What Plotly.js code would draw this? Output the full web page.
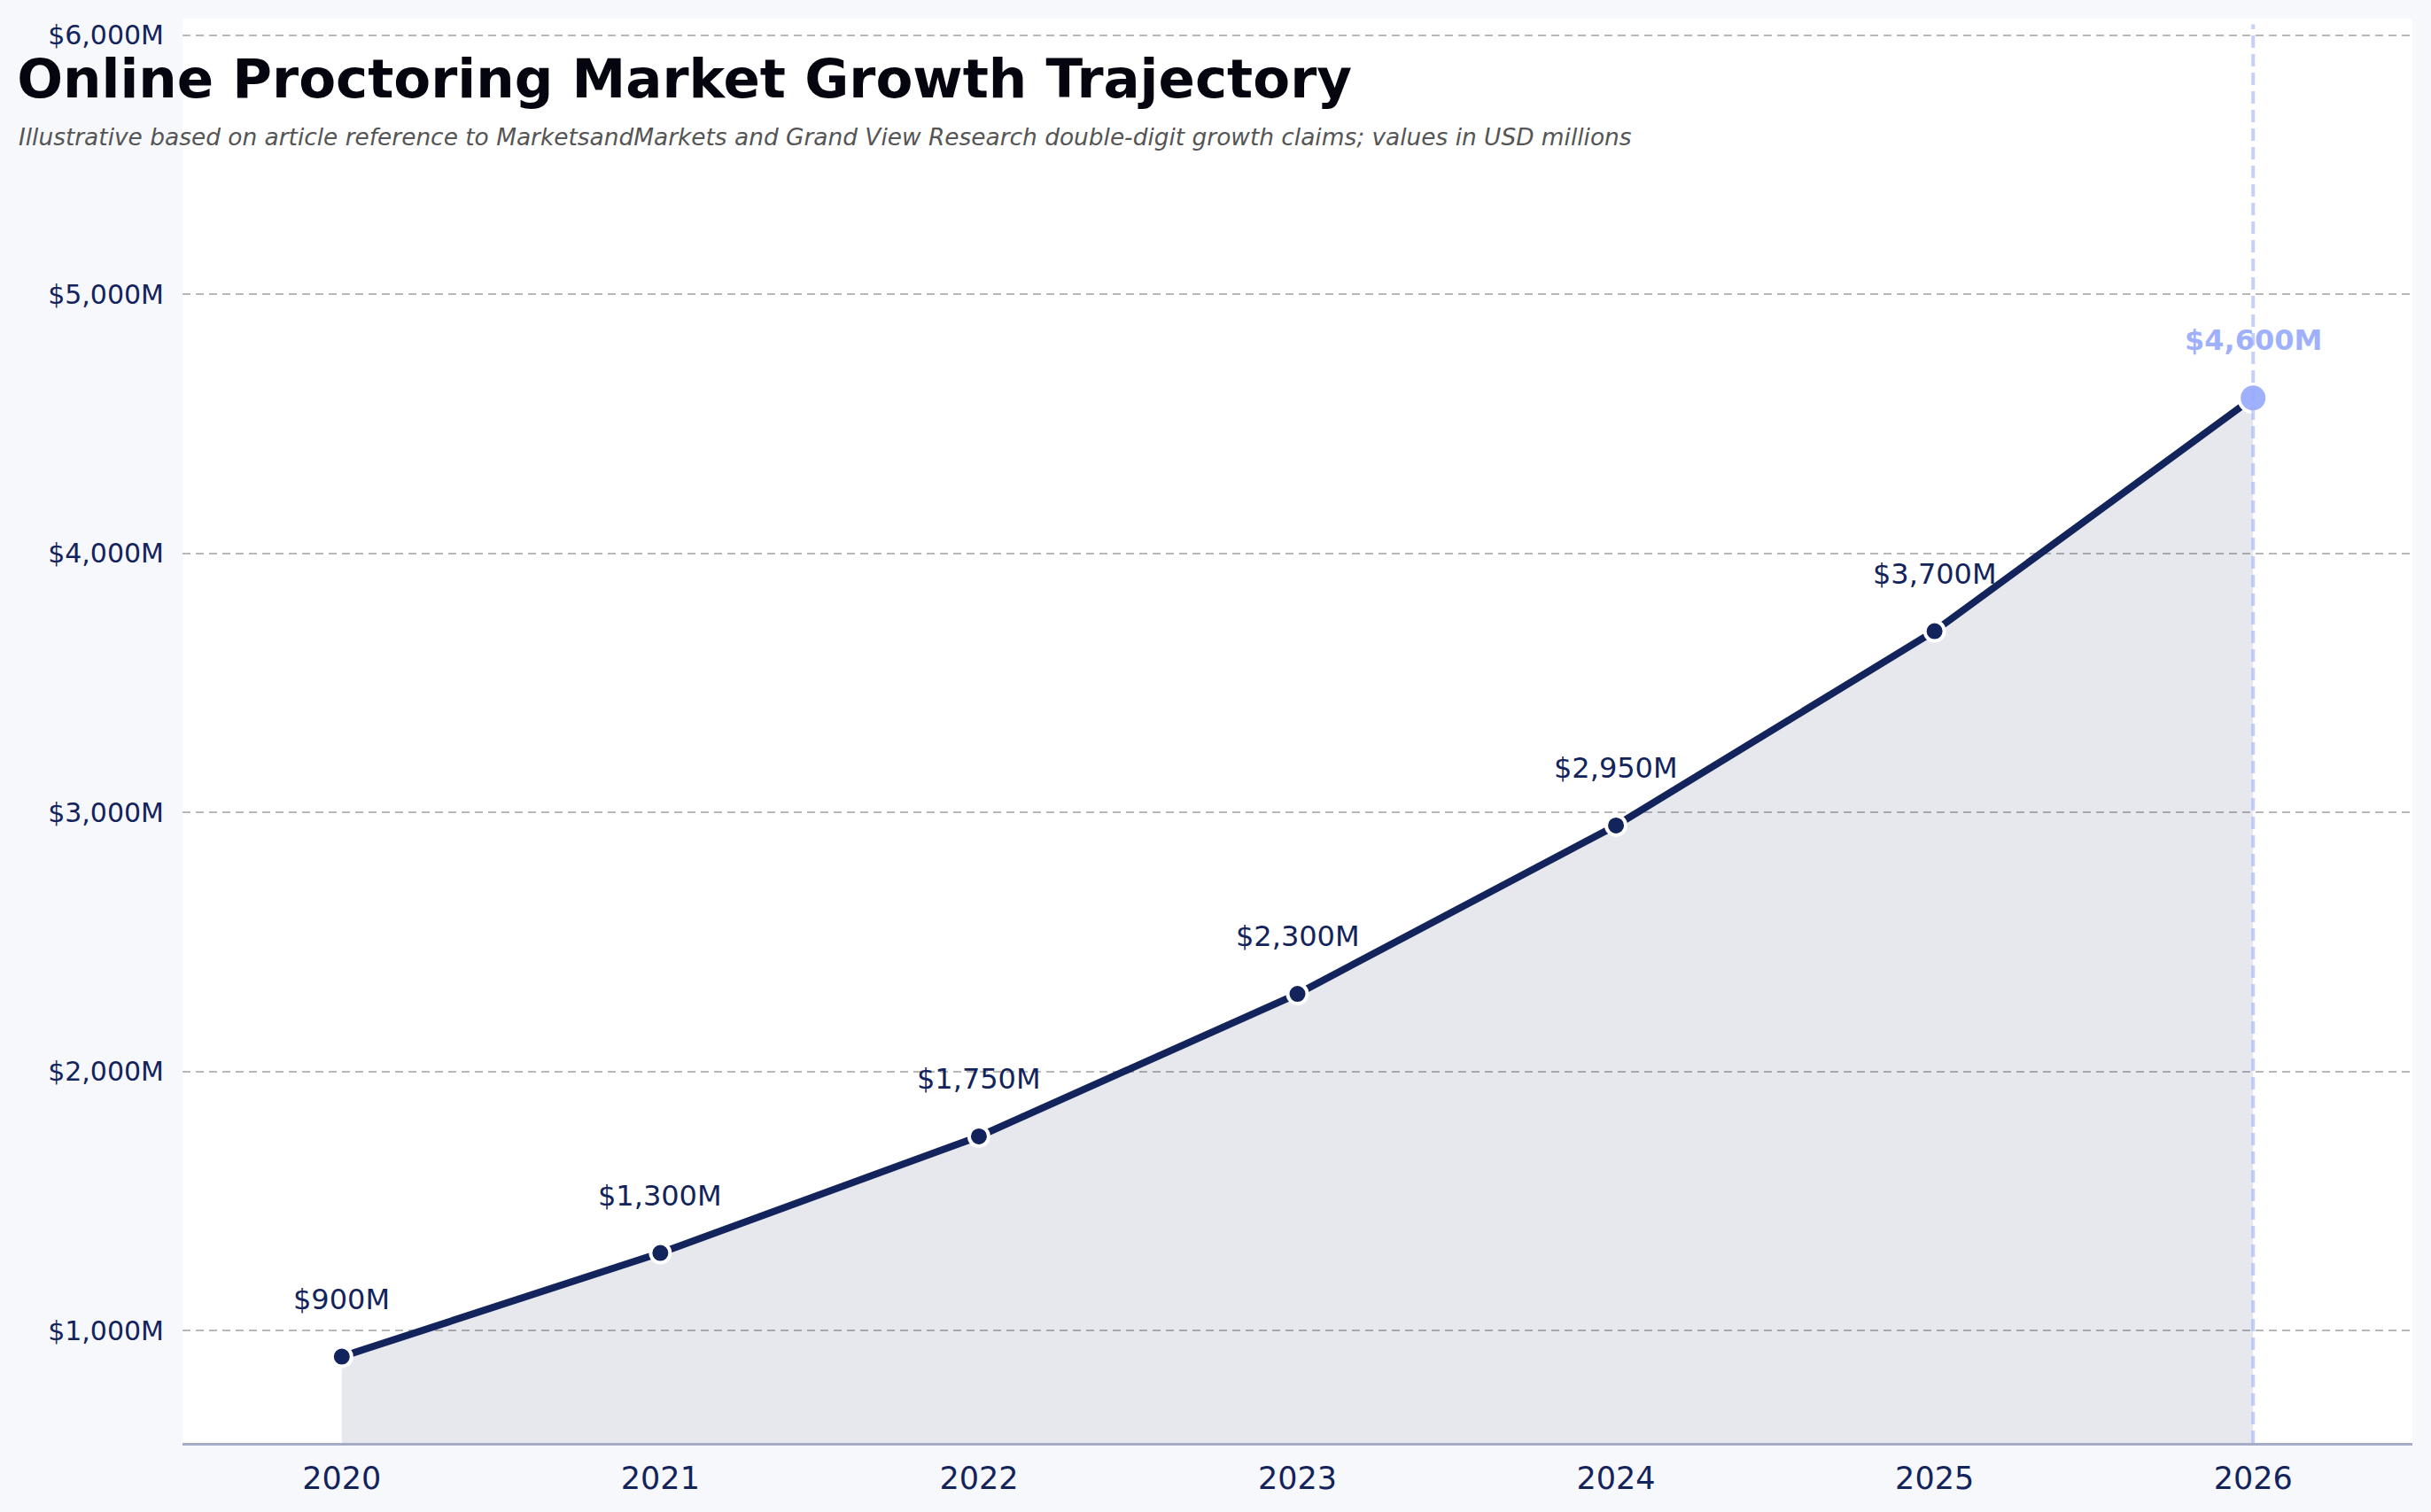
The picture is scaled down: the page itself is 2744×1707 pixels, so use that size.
<!DOCTYPE html>
<html>
<head>
<meta charset="utf-8">
<script src="https://cdn.plot.ly/plotly-3.0.1.min.js"></script>
<style>
  html, body { margin: 0; padding: 0; background: #f7f8fc; }
</style>
</head>
<body>
<div id="myDiv"></div>
<script>
var years = [2020, 2021, 2022, 2023, 2024, 2025, 2026];
var marketSize = [900, 1300, 1750, 2300, 2950, 3700, 4600];
var yTicks = [1000, 2000, 3000, 4000, 5000, 6000];

var navy = '#13235b';
var accent = '#9fb0fc';
var last = years.length - 1;

function money(v) {
  return '$' + v.toLocaleString('en-US') + 'M';
}

var trend = {
  x: years,
  y: marketSize,
  mode: 'lines+markers',
  type: 'scatter',
  fill: 'tozeroy',
  fillcolor: 'rgba(19,35,91,0.105)',
  line: {color: navy, width: 8},
  marker: {size: 22, color: navy, line: {color: '#ffffff', width: 4}},
  hoverinfo: 'x+y',
  showlegend: false
};

var latest = {
  x: [years[last]],
  y: [marketSize[last]],
  mode: 'markers',
  type: 'scatter',
  marker: {size: 32, color: accent, line: {color: '#ffffff', width: 4}},
  showlegend: false
};

var labels = years.map(function (yr, i) {
  var isLast = i === last;
  return {
    x: yr,
    y: marketSize[i],
    text: isLast ? '<b>' + money(marketSize[i]) + '</b>' : money(marketSize[i]),
    showarrow: false,
    yshift: 65,
    font: {family: 'DejaVu Sans', size: 32, color: isLast ? accent : navy}
  };
});

labels.push({
  xref: 'paper',
  yref: 'paper',
  x: -0.0743,
  y: 0.917,
  xanchor: 'left',
  yanchor: 'middle',
  showarrow: false,
  text: '<i>Illustrative based on article reference to MarketsandMarkets and Grand View Research double-digit growth claims; values in USD millions</i>',
  font: {family: 'DejaVu Sans', size: 26.4, color: '#555555'}
});

var layout = {
  width: 2744,
  height: 1707,
  paper_bgcolor: '#f7f8fc',
  plot_bgcolor: '#ffffff',
  margin: {l: 206, r: 21, t: 21, b: 78},
  font: {family: 'DejaVu Sans', color: navy},
  title: {
    text: '<b>Online Proctoring Market Growth Trajectory</b>',
    font: {family: 'DejaVu Sans', size: 61, color: '#05050f'},
    xref: 'container',
    yref: 'container',
    x: 0.007,
    xanchor: 'left',
    y: 0.948,
    yanchor: 'middle'
  },
  xaxis: {
    range: [2019.5, 2026.5],
    tickvals: years,
    tickformat: 'd',
    showgrid: false,
    zeroline: false,
    showline: true,
    linecolor: '#a6acc6',
    linewidth: 3,
    ticks: '',
    ticklabelstandoff: 7,
    tickfont: {family: 'DejaVu Sans', size: 35, color: navy}
  },
  yaxis: {
    range: [567, 6064],
    tickmode: 'array',
    tickvals: yTicks,
    ticktext: yTicks.map(money),
    showgrid: true,
    gridcolor: '#b8b8b8',
    gridwidth: 2,
    griddash: '9px,6px',
    zeroline: false,
    showline: false,
    ticks: '',
    ticklabelstandoff: 20,
    tickfont: {family: 'DejaVu Sans', size: 30, color: navy}
  },
  shapes: [{
    type: 'line',
    xref: 'x',
    yref: 'paper',
    x0: years[last],
    x1: years[last],
    y0: 0,
    y1: 0.996,
    layer: 'above',
    line: {color: 'rgba(150,170,250,0.55)', width: 4, dash: '14px,7px'}
  }],
  annotations: labels
};

Plotly.newPlot('myDiv', [trend, latest], layout, {displayModeBar: false});
</script>
</body>
</html>
